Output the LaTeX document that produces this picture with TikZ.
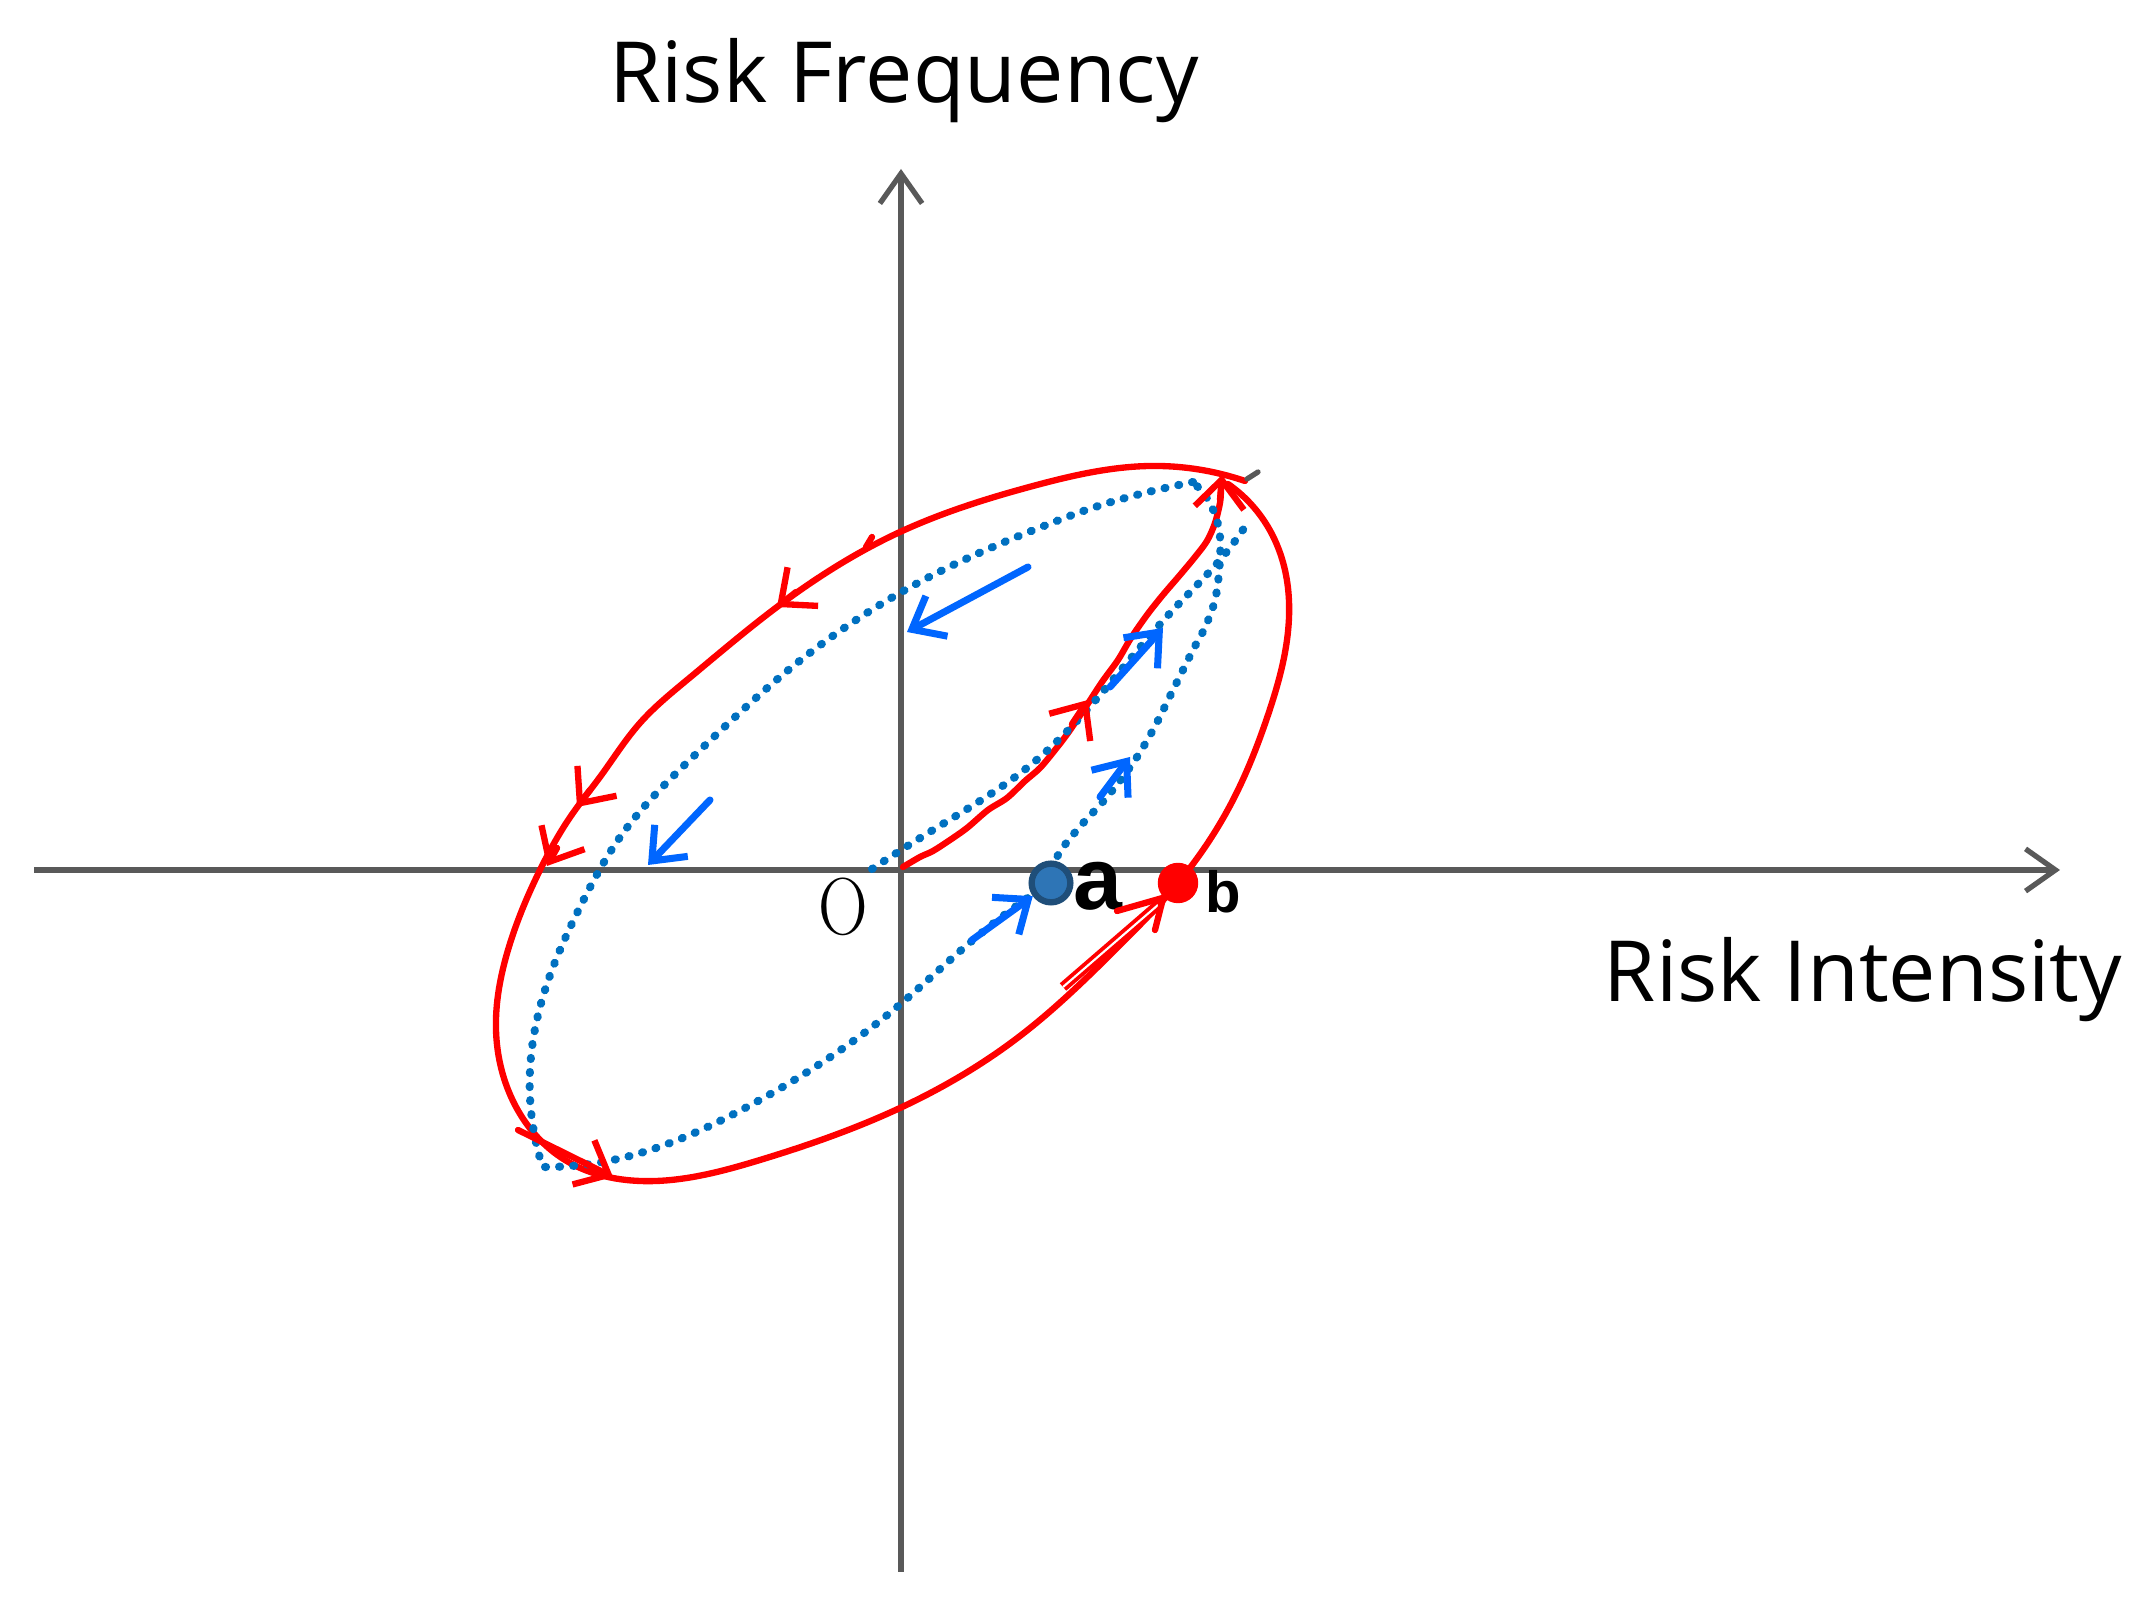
\documentclass[tikz,border=0pt]{standalone}
\usepackage{fontspec}
\newfontfamily\titlefont{Open Sans}
\newfontfamily\labelfont{Liberation Sans}
\usetikzlibrary{arrows.meta,hobby}
\definecolor{axisgray}{RGB}{89,89,89}
\definecolor{dotblue}{RGB}{0,112,192}
\definecolor{arrblue}{RGB}{0,102,255}
\definecolor{redc}{RGB}{255,0,0}
\definecolor{adark}{RGB}{31,78,121}
\definecolor{afill}{RGB}{46,117,182}
\begin{document}
\begin{tikzpicture}[x=0.01cm,y=-0.01cm,
  axisline/.style={draw=axisgray,line width=1.5pt,-{Straight Barb[length=8.5pt,width=12pt]}},
  redline/.style={draw=redc,line width=1.8pt,line cap=round,line join=round},
  bluedots/.style={draw=dotblue,line width=2.3pt,line cap=round,dash pattern=on 0.3pt off 3.7pt},
  bluearr/.style={draw=arrblue,line width=2pt,line cap=round,-{Straight Barb[length=8pt,width=13pt]}},
  redhead/.style={draw=redc,line width=1.8pt,line cap=round,-{Straight Barb[length=8pt,width=14pt]}},
  titletext/.style={font=\titlefont\fontsize{24}{28}\selectfont,text=black,inner sep=0pt},
]
\useasboundingbox (0,0) rectangle (2153,1604);
\fill[white] (0,0) rectangle (2153,1604);

% axes
\coordinate (xl) at (34,870);
\coordinate (xr) at (2060,870);
\coordinate (yb) at (901,1572);
\coordinate (yt) at (901,169);
\draw[axisline] (xl) -- (xr);
\draw[axisline] (yb) -- (yt);

% titles
\node[titletext,anchor=base] (tfreq) at (904,103) {Risk Frequency};
\node[titletext,anchor=base] (tint) at (1863,1002) {Risk Intensity};
\node[inner sep=0pt,anchor=base west] (orig) at (818,935) {\scalebox{0.85}[1]{\fontsize{23}{26}\selectfont O}};

% red outer loop
\draw[redline,use Hobby shortcut] (1245,481) .. (1150,466) .. (1033,486) .. (900,532) .. (777,607) .. (687,680) .. (640,723) .. (600,777) .. (573,813) .. (540,870) .. (508,950) .. (496,1030) .. (515,1105) .. (565,1160) .. (640,1181) .. (760,1160) .. (900,1108) .. (1020,1036) .. (1120,945) .. (1178,883) .. (1233,800) .. (1268,715) .. (1287,640) .. (1286,575) .. (1268,527) .. (1228,484);
% red inner (hand-drawn) line
\draw[redline] plot[smooth,tension=0.5] coordinates {(903,867) (920,857) (933,851) (950,840) (967,828) (988,810) (1007,798) (1025,781) (1040,768) (1055,750) (1068,733) (1087,705) (1102,682) (1118,660) (1131,638) (1147,615) (1162,596) (1180,575) (1195,557) (1207,541) (1215,523) (1220,503) (1221,490)};

% blue dotted loop
\draw[bluedots] plot[smooth,tension=0.6] coordinates {(1050,883) (1057,857) (1077,830) (1107,797) (1133,763) (1153,730) (1173,690) (1193,650) (1207,623) (1217,590) (1220,537) (1210,503) (1193,482)};
\draw[bluedots,use Hobby shortcut] (1193,482) .. (1067,517) .. (933,575) .. (797,663) .. (697,753) .. (623,833) .. (580,907) .. (545,990) .. (530,1070) .. (542,1165);
\draw[bluedots,use Hobby shortcut] (545,1167) .. (613,1160) .. (747,1107) .. (897,1007) .. (973,940) .. (1050,883);
% blue dotted inner line
\draw[bluedots,use Hobby shortcut] (872,869) .. (933,830) .. (1033,763) .. (1100,695) .. (1173,610) .. (1220,560) .. (1250,519);

% red arrow heads
\coordinate (r1s) at (796,592); \coordinate (r1e) at (777,607);
\draw[redhead] (r1s) -- (r1e);
\coordinate (r2s) at (590,790); \coordinate (r2e) at (577,807);
\draw[redhead] (r2s) -- (r2e);
\coordinate (r3s) at (557,848); \coordinate (r3e) at (547,866);
\draw[redhead] (r3s) -- (r3e);
\coordinate (r4s) at (518,1130); \coordinate (r4e) at (613,1177);
\draw[redhead] (r4s) -- (r4e);
\coordinate (r5s) at (1072,724); \coordinate (r5e) at (1088,700);
\draw[redhead] (r5s) -- (r5e);
\coordinate (r6s) at (1220,500); \coordinate (r6e) at (1222,475);
\draw[redhead] (r6s) -- (r6e);
\coordinate (r7s) at (866,547); \coordinate (r7e) at (872,537);
\draw[redline] (r7s) -- (r7e);

% gray tick
\coordinate (g1) at (1247,479); \coordinate (g2) at (1258,472);
\draw[draw=axisgray,line width=1.5pt,line cap=round] (g1) -- (g2);

% points a and b
\node[circle,fill=afill,draw=adark,line width=1.8pt,minimum size=11pt,inner sep=0pt] (pa) at (1051,883) {};
\node[circle,fill=redc,minimum size=11.5pt,inner sep=0pt] (pb) at (1178,883) {};
\node[anchor=base west,inner sep=0pt,font=\labelfont\bfseries\fontsize{25}{28}\selectfont] (la) at (1073,910) {a};
\node[anchor=base west,inner sep=0pt,font=\labelfont\bfseries\fontsize{16.5}{19}\selectfont] (lb) at (1205,913) {b};

% double red arrow into b
\coordinate (dstart) at (1063,987);
\coordinate (dend) at (1158,905);
\draw[draw=redc,line width=1.1pt,double=white,double distance=0.6pt] (dstart) -- (dend);
\coordinate (bb1) at (1117,911);
\coordinate (bb2) at (1155,930);
\draw[redline] (bb1) -- (pb.south west) -- (bb2);

% blue solid arrows
\coordinate (ba1) at (1028,567); \coordinate (ba1e) at (907,632);
\draw[bluearr] (ba1) -- (ba1e);
\coordinate (ba2) at (710,800); \coordinate (ba2e) at (648,865);
\draw[bluearr] (ba2) -- (ba2e);
\coordinate (ba3) at (972,940);
\draw[bluearr] (ba3) -- (pa);
\coordinate (ba4) at (1100,797); \coordinate (ba4e) at (1130,757);
\draw[bluearr] (ba4) -- (ba4e);
\coordinate (ba5) at (1110,687); \coordinate (ba5e) at (1163,628);
\draw[bluearr] (ba5) -- (ba5e);
\end{tikzpicture}
\end{document}
